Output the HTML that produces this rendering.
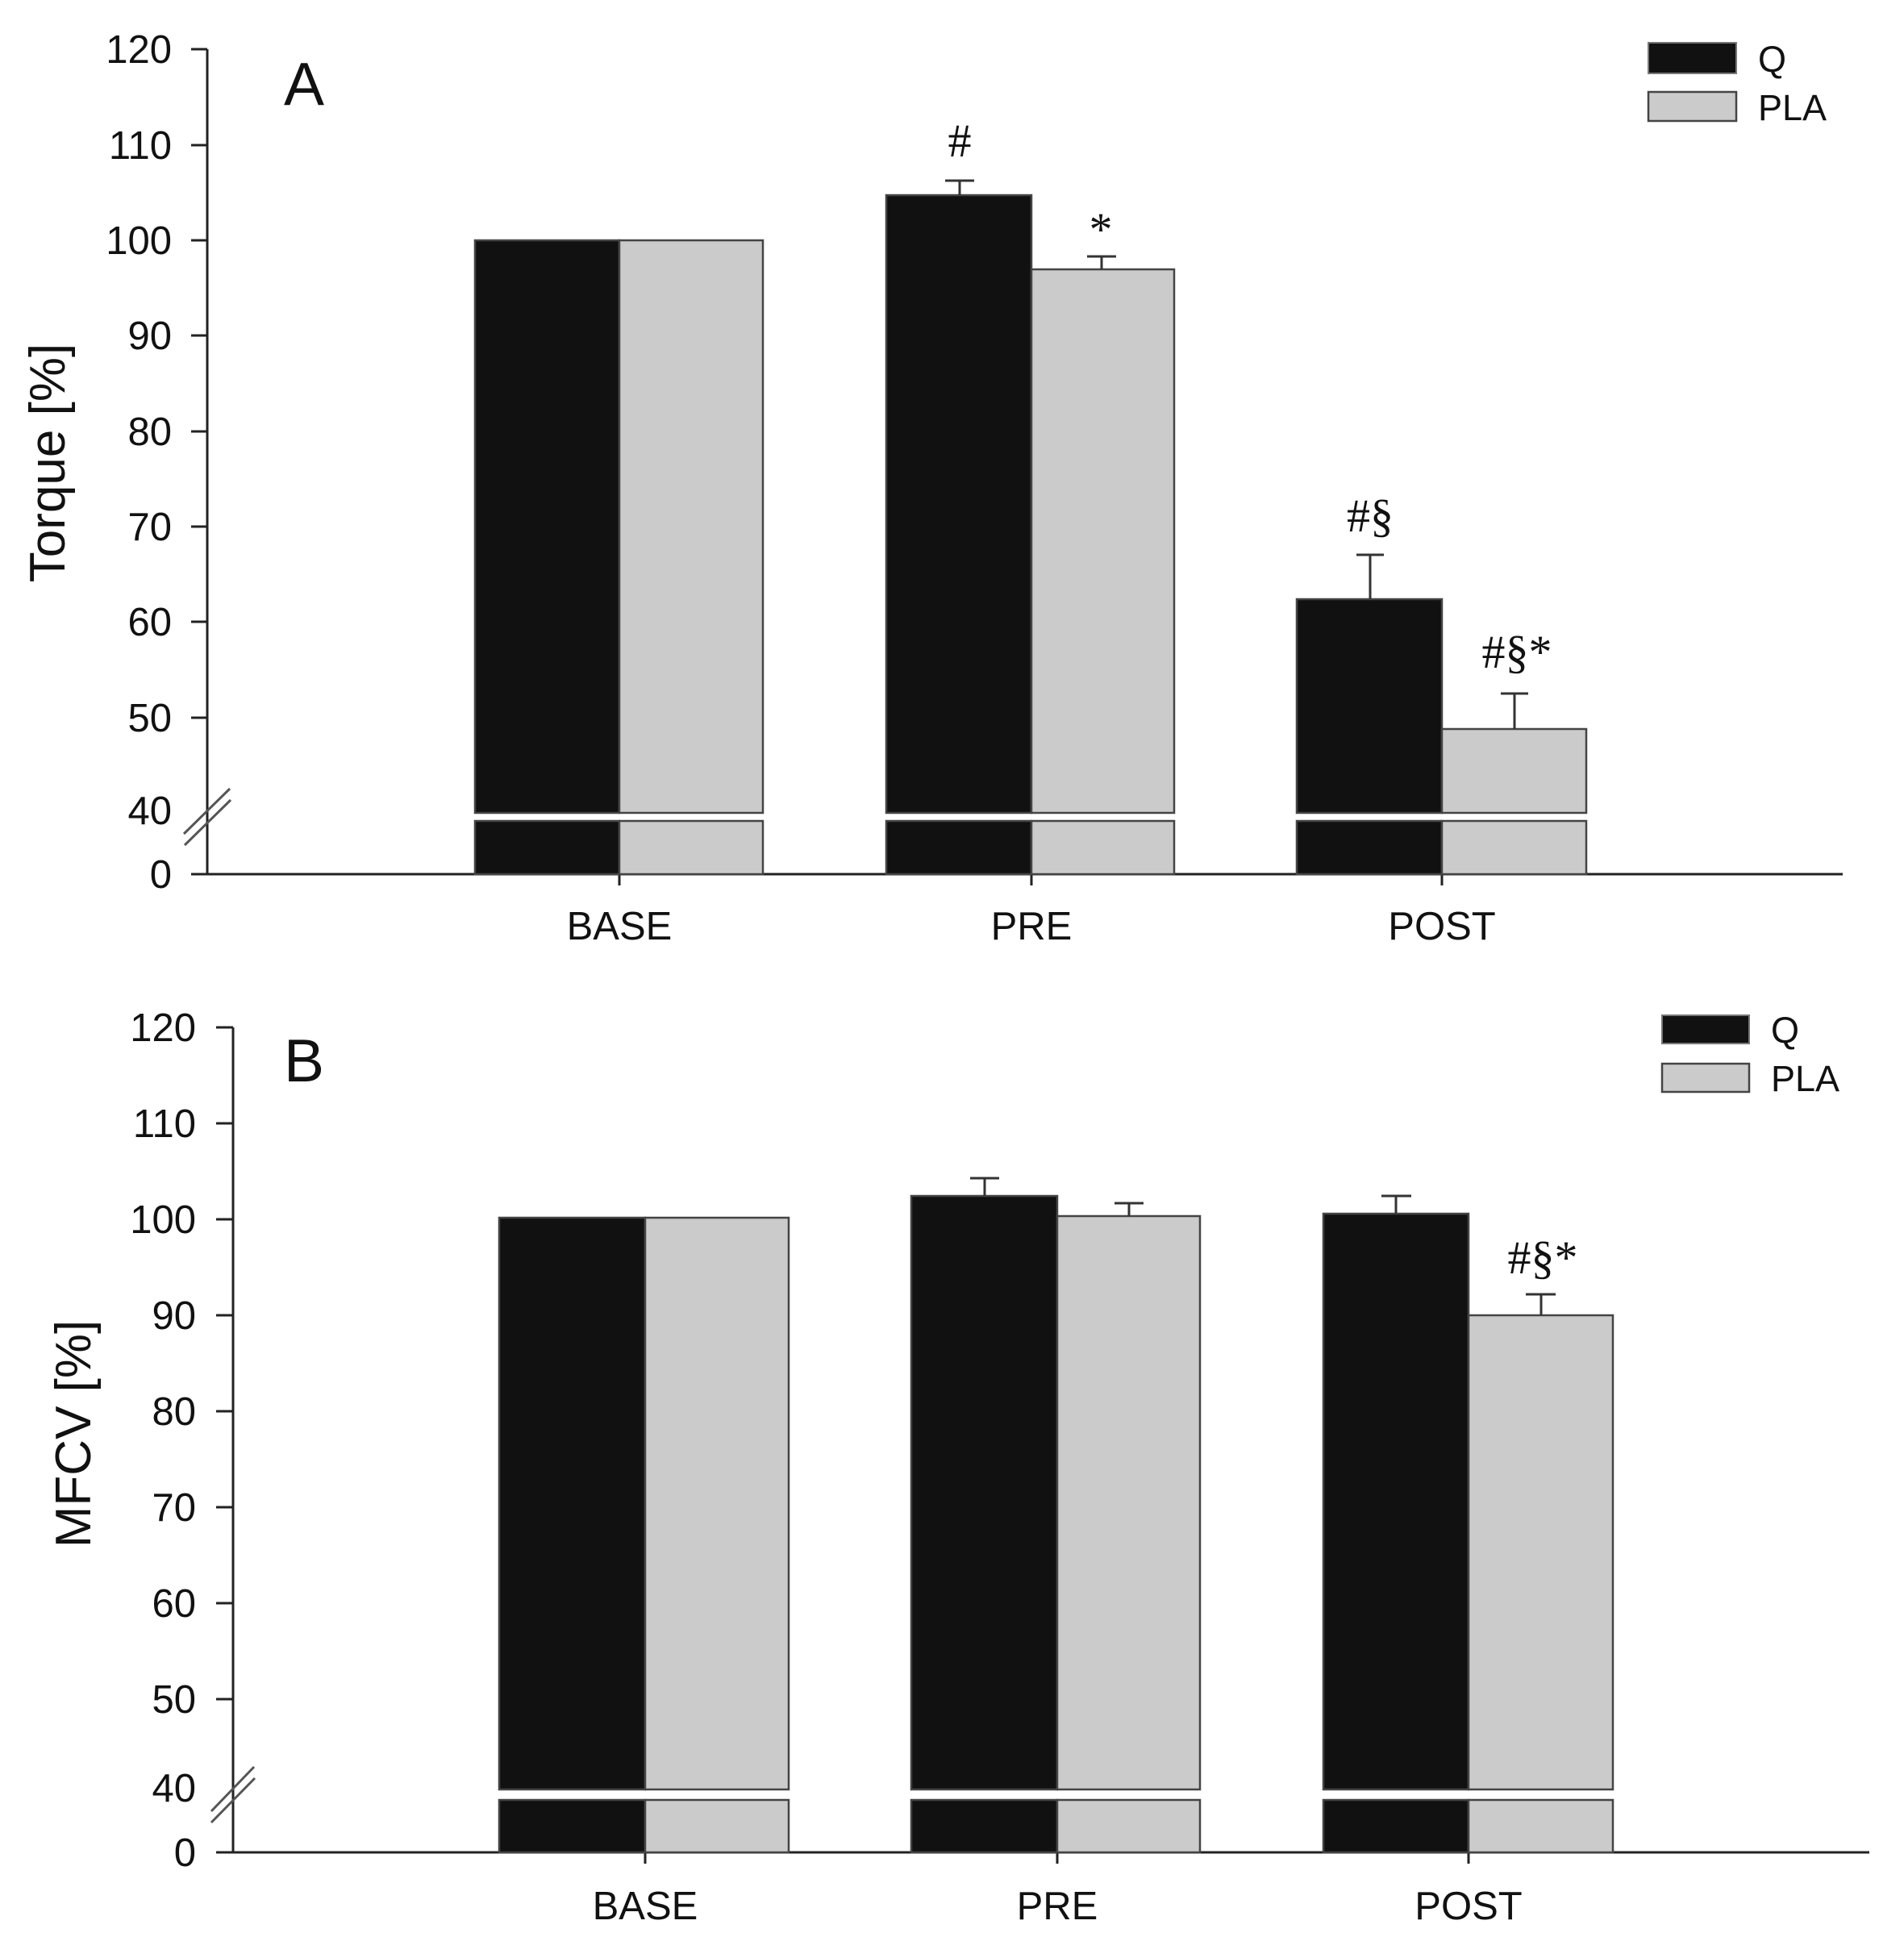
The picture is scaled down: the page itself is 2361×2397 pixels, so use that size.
<!DOCTYPE html>
<html><head><meta charset="utf-8"><style>html,body{margin:0;padding:0;background:#fff}svg{display:block}</style></head>
<body>
<svg width="2361" height="2397" viewBox="0 0 2361 2397" xmlns="http://www.w3.org/2000/svg">
<rect width="2361" height="2397" fill="#fff"/>
<g font-family="Liberation Sans, sans-serif" fill="#111">
<!-- Panel A -->
<g stroke="#222" stroke-width="3">
<line x1="257" y1="61" x2="257" y2="1084"/>
<line x1="237" y1="1084" x2="2285" y2="1084"/>
<line x1="237" y1="61" x2="257" y2="61"/>
<line x1="237" y1="180" x2="257" y2="180"/>
<line x1="237" y1="298" x2="257" y2="298"/>
<line x1="237" y1="416" x2="257" y2="416"/>
<line x1="237" y1="535" x2="257" y2="535"/>
<line x1="237" y1="653" x2="257" y2="653"/>
<line x1="237" y1="771" x2="257" y2="771"/>
<line x1="237" y1="890" x2="257" y2="890"/>
<line x1="768" y1="1084" x2="768" y2="1098"/>
<line x1="1279" y1="1084" x2="1279" y2="1098"/>
<line x1="1788" y1="1084" x2="1788" y2="1098"/>
</g>
<g stroke="#555" stroke-width="3">
<line x1="228" y1="1034" x2="285" y2="978"/>
<line x1="229" y1="1048" x2="286" y2="992"/>
</g>
<g font-size="49" text-anchor="end">
<text x="213" y="78">120</text><text x="213" y="197">110</text><text x="213" y="315">100</text>
<text x="213" y="433">90</text><text x="213" y="552">80</text><text x="213" y="670">70</text>
<text x="213" y="788">60</text><text x="213" y="907">50</text><text x="213" y="1022">40</text>
<text x="213" y="1101">0</text>
</g>
<text x="352" y="130" font-size="75">A</text>
<text transform="translate(80,574) rotate(-90)" font-size="62" text-anchor="middle">Torque [%]</text>
<g font-size="49" text-anchor="middle">
<text x="768" y="1165">BASE</text><text x="1279" y="1165">PRE</text><text x="1788" y="1165">POST</text>
</g>
<g stroke="#444" stroke-width="2.5">
<rect x="589" y="298" width="179" height="710" fill="#111"/>
<rect x="768" y="298" width="178" height="710" fill="#cbcbcb"/>
<rect x="589" y="1018" width="179" height="66" fill="#111"/>
<rect x="768" y="1018" width="178" height="66" fill="#cbcbcb"/>
<rect x="1099" y="242" width="180" height="766" fill="#111"/>
<rect x="1279" y="334" width="177" height="674" fill="#cbcbcb"/>
<rect x="1099" y="1018" width="180" height="66" fill="#111"/>
<rect x="1279" y="1018" width="177" height="66" fill="#cbcbcb"/>
<rect x="1608" y="743" width="180" height="265" fill="#111"/>
<rect x="1788" y="904" width="179" height="104" fill="#cbcbcb"/>
<rect x="1608" y="1018" width="180" height="66" fill="#111"/>
<rect x="1788" y="1018" width="179" height="66" fill="#cbcbcb"/>
</g>
<g stroke="#333" stroke-width="3" fill="none">
<path d="M1190 242V224M1172 224H1208"/>
<path d="M1366 334V318M1348 318H1384"/>
<path d="M1699 743V688M1682 688H1716"/>
<path d="M1878 904V860M1861 860H1895"/>
</g>
<g font-family="Liberation Serif, serif" font-size="58" text-anchor="middle">
<text x="1190" y="194">#</text>
<text x="1365" y="304">*</text>
<text x="1699" y="659">#§</text>
<text x="1881" y="828">#§*</text>
</g>
<rect x="2044" y="53" width="109" height="38" fill="#111" stroke="#777" stroke-width="2"/>
<rect x="2044" y="114" width="109" height="36" fill="#cbcbcb" stroke="#444" stroke-width="2.5"/>
<text x="2180" y="89" font-size="45">Q</text>
<text x="2180" y="149" font-size="45">PLA</text>

<!-- Panel B -->
<g stroke="#222" stroke-width="3">
<line x1="289" y1="1274" x2="289" y2="2297"/>
<line x1="268" y1="2297" x2="2318" y2="2297"/>
<line x1="268" y1="1274" x2="289" y2="1274"/>
<line x1="268" y1="1393" x2="289" y2="1393"/>
<line x1="268" y1="1512" x2="289" y2="1512"/>
<line x1="268" y1="1631" x2="289" y2="1631"/>
<line x1="268" y1="1750" x2="289" y2="1750"/>
<line x1="268" y1="1869" x2="289" y2="1869"/>
<line x1="268" y1="1988" x2="289" y2="1988"/>
<line x1="268" y1="2107" x2="289" y2="2107"/>
<line x1="800" y1="2297" x2="800" y2="2311"/>
<line x1="1311" y1="2297" x2="1311" y2="2311"/>
<line x1="1821" y1="2297" x2="1821" y2="2311"/>
</g>
<g stroke="#555" stroke-width="3">
<line x1="262" y1="2246" x2="315" y2="2191"/>
<line x1="262" y1="2260" x2="316" y2="2205"/>
</g>
<g font-size="49" text-anchor="end">
<text x="243" y="1291">120</text><text x="243" y="1410">110</text><text x="243" y="1529">100</text>
<text x="243" y="1648">90</text><text x="243" y="1767">80</text><text x="243" y="1886">70</text>
<text x="243" y="2005">60</text><text x="243" y="2124">50</text><text x="243" y="2234">40</text>
<text x="243" y="2314">0</text>
</g>
<text x="352" y="1341" font-size="75">B</text>
<text transform="translate(112,1778) rotate(-90)" font-size="62" text-anchor="middle">MFCV [%]</text>
<g font-size="49" text-anchor="middle">
<text x="800" y="2380">BASE</text><text x="1311" y="2380">PRE</text><text x="1821" y="2380">POST</text>
</g>
<g stroke="#444" stroke-width="2.5">
<rect x="619" y="1510" width="181" height="709" fill="#111"/>
<rect x="800" y="1510" width="178" height="709" fill="#cbcbcb"/>
<rect x="619" y="2232" width="181" height="65" fill="#111"/>
<rect x="800" y="2232" width="178" height="65" fill="#cbcbcb"/>
<rect x="1130" y="1483" width="181" height="736" fill="#111"/>
<rect x="1311" y="1508" width="177" height="711" fill="#cbcbcb"/>
<rect x="1130" y="2232" width="181" height="65" fill="#111"/>
<rect x="1311" y="2232" width="177" height="65" fill="#cbcbcb"/>
<rect x="1641" y="1505" width="180" height="714" fill="#111"/>
<rect x="1821" y="1631" width="179" height="588" fill="#cbcbcb"/>
<rect x="1641" y="2232" width="180" height="65" fill="#111"/>
<rect x="1821" y="2232" width="179" height="65" fill="#cbcbcb"/>
</g>
<g stroke="#333" stroke-width="3" fill="none">
<path d="M1221 1483V1461M1203 1461H1239"/>
<path d="M1400 1508V1492M1382 1492H1418"/>
<path d="M1731 1505V1483M1713 1483H1750"/>
<path d="M1911 1631V1605M1892 1605H1929"/>
</g>
<text x="1913" y="1579" font-family="Liberation Serif, serif" font-size="58" text-anchor="middle">#§*</text>
<rect x="2061" y="1259" width="108" height="35" fill="#111" stroke="#777" stroke-width="2"/>
<rect x="2061" y="1319" width="108" height="35" fill="#cbcbcb" stroke="#444" stroke-width="2.5"/>
<text x="2196" y="1293" font-size="45">Q</text>
<text x="2196" y="1353" font-size="45">PLA</text>
</g>
</svg>
</body></html>
